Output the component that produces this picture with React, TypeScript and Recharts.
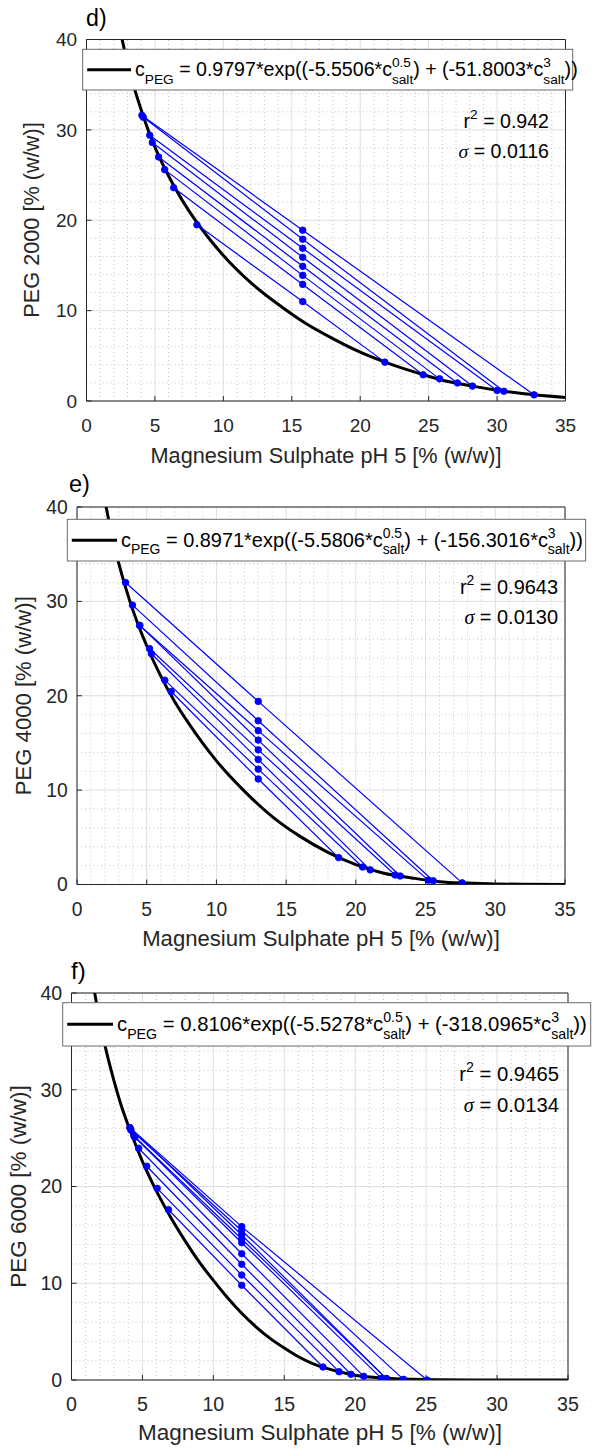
import React from "react";
import { LineChart, Line, XAxis, YAxis, CartesianGrid, ReferenceLine } from "recharts";

const FONT = '"Liberation Sans", Arial, Helvetica, sans-serif';
const INK = "#262626";
const BLUE = "#0000ff";

const xTicks = [0, 5, 10, 15, 20, 25, 30, 35];
const yTicks = [0, 10, 20, 30, 40];
const xMinor = [1, 2, 3, 4, 6, 7, 8, 9, 11, 12, 13, 14, 16, 17, 18, 19, 21, 22, 23, 24, 26, 27, 28, 29, 31, 32, 33, 34];
const yMinor = [2, 4, 6, 8, 12, 14, 16, 18, 22, 24, 26, 28, 32, 34, 36, 38];

const xLabel = "Magnesium Sulphate pH 5 [% (w/w)]";

// d) PEG 2000
const dCurveX = [2.5, 3, 3.5, 4, 4.5, 5, 6, 7, 8, 9, 10, 12, 14, 16, 18, 20, 22, 24, 26, 28, 30, 32, 35];
const dCurveY = [40.7, 37.4, 34.6, 32.2, 30.0, 28.1, 24.9, 22.2, 19.9, 17.9, 16.1, 13.1, 10.7, 8.6, 6.9, 5.4, 4.2, 3.2, 2.3, 1.7, 1.2, 0.8, 0.4];
const dTopX = [4.05, 4.15, 4.62, 4.81, 5.27, 5.71, 6.37, 8.07];
const dTopY = [31.6, 31.4, 29.4, 28.6, 27.0, 25.6, 23.6, 19.5];
const dFeedX = 15.8;
const dFeedY = [18.9, 17.9, 16.9, 15.9, 14.9, 13.9, 12.9, 11.0];
const dBotX = [32.7, 30.5, 30.0, 28.2, 27.1, 25.8, 24.6, 21.8];
const dBotY = [0.68, 1.08, 1.16, 1.65, 2.0, 2.45, 2.9, 4.3];

// e) PEG 4000
const eCurveX = [2, 2.5, 3, 3.5, 4, 4.5, 5, 6, 7, 8, 9, 10, 12, 14, 16, 18, 20, 22, 24, 26, 28, 30, 32, 35];
const eCurveY = [40.7, 37.0, 34.0, 31.4, 29.1, 27.1, 25.3, 22.1, 19.4, 17.1, 15.0, 13.1, 9.9, 7.2, 5.1, 3.4, 2.1, 1.2, 0.7, 0.3, 0.15, 0.06, 0.02, 0];
const eTopX = [3.48, 3.98, 4.5, 4.5, 5.2, 5.34, 6.3, 6.75];
const eTopY = [32.0, 29.6, 27.45, 27.45, 25.0, 24.45, 21.65, 20.45];
const eFeedX = 13.0;
const eFeedY = [19.4, 17.35, 16.3, 15.3, 14.27, 13.25, 12.22, 11.18];
const eBotX = [27.63, 25.55, 25.19, 23.18, 22.82, 21.03, 20.48, 18.76];
const eBotY = [0.17, 0.4, 0.46, 0.9, 1.0, 1.55, 1.85, 2.85];

// f) PEG 6000
const fCurveX = [1.5, 2, 2.5, 3, 3.5, 4, 4.5, 5, 6, 7, 8, 9, 10, 11, 12, 13, 14, 15, 16, 17, 18, 19, 20, 22, 24, 26, 28, 35];
const fCurveY = [41.2, 37.0, 33.7, 30.9, 28.4, 26.3, 24.4, 22.6, 19.5, 16.8, 14.4, 12.2, 10.3, 8.5, 6.9, 5.5, 4.3, 3.3, 2.4, 1.7, 1.2, 0.8, 0.5, 0.2, 0.07, 0.02, 0, 0];
const fTopX = [4.12, 4.12, 4.19, 4.4, 4.47, 4.73, 5.3, 6.04, 6.84];
const fTopY = [26.08, 26.08, 25.84, 25.22, 25.08, 23.95, 22.09, 19.81, 17.6];
const fFeedX = 12.0;
const fFeedY = [15.85, 14.99, 15.43, 14.57, 14.19, 13.05, 11.96, 10.85, 9.79];
const fBotX = [25.06, 22.2, 23.4, 22.2, 21.85, 20.6, 19.7, 18.86, 17.73];
const fBotY = [0.0, 0.14, 0.07, 0.14, 0.17, 0.38, 0.59, 0.86, 1.34];

type Cfg = {
  top: number; height: number; mTop: number; yW: number; mRight: number; xH: number; fs: number;
  curveX: number[]; curveY: number[];
  topX: number[]; topY: number[]; feedX: number; feedY: number[]; botX: number[]; botY: number[];
};

function Panel({ c }: { c: Cfg }) {
  const curve = c.curveX.map((x, i) => ({ x, y: c.curveY[i] }));
  const ties = c.topX.map((_, i) => [
    { x: c.topX[i], y: c.topY[i] },
    { x: c.feedX, y: c.feedY[i] },
    { x: c.botX[i], y: c.botY[i] },
  ]);
  const tick = { fill: INK, fontSize: c.fs, fontFamily: FONT };
  return (
    <div style={{ position: "absolute", left: 0, top: c.top }}>
      <LineChart width={593} height={c.height} margin={{ top: c.mTop, right: c.mRight, left: 0, bottom: 0 }}>
        {xMinor.map((v) => <ReferenceLine key={"mx" + v} x={v} stroke="#c4c4c4" strokeDasharray="1 3" />)}
        {yMinor.map((v) => <ReferenceLine key={"my" + v} y={v} stroke="#c4c4c4" strokeDasharray="1 3" />)}
        <CartesianGrid stroke="#dedede" />
        <XAxis type="number" dataKey="x" domain={[0, 35]} ticks={xTicks} interval={0} allowDataOverflow
          height={c.xH} tickSize={-5} tickMargin={22.5} tick={tick} stroke={INK} />
        <XAxis xAxisId="top" orientation="top" type="number" dataKey="x" domain={[0, 35]} ticks={xTicks} interval={0}
          height={1} tickSize={-5} tick={false} stroke={INK} />
        <YAxis type="number" domain={[0, 40]} ticks={yTicks} interval={0} allowDataOverflow
          width={c.yW} tickSize={-5} tickMargin={14.3} tick={tick} stroke={INK} />
        <YAxis yAxisId="right" orientation="right" type="number" domain={[0, 40]} ticks={yTicks} interval={0}
          width={1} tickSize={-5} tick={false} stroke={INK} />
        <Line data={curve} dataKey="y" type="monotone" stroke="#000" strokeWidth={3} dot={false} isAnimationActive={false} />
        {ties.map((pts, i) => (
          <Line key={i} data={pts} dataKey="y" type="linear" stroke={BLUE} strokeWidth={1.2}
            dot={{ r: 3.3, fill: BLUE, stroke: BLUE, strokeWidth: 0.8 }} isAnimationActive={false} />
        ))}
      </LineChart>
    </div>
  );
}

function FitLegend({ bx, by, bw, bh, tx, s, coef }: { bx: number; by: number; bw: number; bh: number; tx: number; s: number; coef: string[] }) {
  const fs = 20.3 * s;
  const ss = 14.2 * s;
  const cy = by + bh / 2;
  const base = cy + 6.5 * s;
  return (
    <g>
      <rect x={bx} y={by} width={bw} height={bh} fill="#fff" stroke="#6a6a6a" strokeWidth={1} />
      <line x1={bx + 4.5} x2={tx - 4} y1={cy} y2={cy} stroke="#000" strokeWidth={3} />
      <text x={tx} y={base} fontSize={fs} fill="#000" style={{ whiteSpace: "pre" }}>
        c<tspan fontSize={ss} dy={8 * s}>PEG</tspan>
        <tspan dy={-8 * s}>{` = ${coef[0]}*exp((${coef[1]}*c`}</tspan>
        <tspan fontSize={ss} dy={-9 * s}>0.5</tspan>
        <tspan fontSize={ss} dx={-1.39 * ss} dy={17 * s}>salt</tspan>
        <tspan dy={-8 * s}>{`) + (${coef[2]}*c`}</tspan>
        <tspan fontSize={ss} dy={-9 * s}>3</tspan>
        <tspan fontSize={ss} dx={-0.556 * ss} dy={17 * s}>salt</tspan>
        <tspan dy={-8 * s}>))</tspan>
      </text>
    </g>
  );
}

function Stats({ x, y, s, r2, sigma }: { x: number; y: number; s: number; r2: string; sigma: string }) {
  const fs = 20.3 * s;
  return (
    <g fill="#000" fontSize={fs} style={{ whiteSpace: "pre" }}>
      <text x={x} y={y} textAnchor="end">
        r<tspan fontSize={14.2 * s} dy={-9 * s}>2</tspan><tspan dy={9 * s}>{` = ${r2}`}</tspan>
      </text>
      <text x={x} y={y + 31 * s} textAnchor="end">
        <tspan fontFamily='"Liberation Serif", "DejaVu Serif", serif' fontStyle="italic">σ</tspan>{` = ${sigma}`}
      </text>
    </g>
  );
}

function AxisText({ letter, lx, ly, xcx, xby, ycx, ycy, yLabel, s }: { letter: string; lx: number; ly: number; xcx: number; xby: number; ycx: number; ycy: number; yLabel: string; s: number }) {
  return (
    <g fill={INK}>
      <text x={lx} y={ly} fontSize={24 * s} fill="#000">{letter}</text>
      <text x={xcx} y={xby} fontSize={22.5 * s} textAnchor="middle">{xLabel}</text>
      <text x={ycx} y={ycy} fontSize={22.5 * s} textAnchor="middle" transform={`rotate(-90 ${ycx} ${ycy})`}>{yLabel}</text>
    </g>
  );
}

const dCfg: Cfg = { top: 0, height: 470, mTop: 38.5, yW: 86.5, mRight: 26.5, xH: 69, fs: 19, curveX: dCurveX, curveY: dCurveY, topX: dTopX, topY: dTopY, feedX: dFeedX, feedY: dFeedY, botX: dBotX, botY: dBotY };
const eCfg: Cfg = { top: 480, height: 470, mTop: 26, yW: 77, mRight: 27, xH: 65.5, fs: 19.3, curveX: eCurveX, curveY: eCurveY, topX: eTopX, topY: eTopY, feedX: eFeedX, feedY: eFeedY, botX: eBotX, botY: eBotY };
const fCfg: Cfg = { top: 960, height: 480, mTop: 32, yW: 71.5, mRight: 24, xH: 60, fs: 19.6, curveX: fCurveX, curveY: fCurveY, topX: fTopX, topY: fTopY, feedX: fFeedX, feedY: fFeedY, botX: fBotX, botY: fBotY };

export default function App() {
  return (
    <div style={{ position: "absolute", left: 0, top: 0, width: 593, height: 1449, background: "#fff", fontFamily: FONT }}>
      <Panel c={dCfg} />
      <Panel c={eCfg} />
      <Panel c={fCfg} />
      <svg width={593} height={1449} style={{ position: "absolute", left: 0, top: 0, pointerEvents: "none" }} fontFamily={FONT}>
        <FitLegend bx={82.7} by={49.3} bw={490} bh={40.7} tx={135} s={0.965} coef={["0.9797", "-5.5506", "-51.8003"]} />
        <Stats x={549} y={128} s={0.965} r2="0.942" sigma="0.0116" />
        <AxisText letter="d)" lx={86} ly={26} xcx={326} xby={463} ycx={39} ycy={220} yLabel="PEG 2000 [% (w/w)]" s={0.965} />

        <FitLegend bx={67.3} by={519.3} bw={518.3} bh={41.7} tx={121} s={0.983} coef={["0.8971", "-5.5806", "-156.3016"]} />
        <Stats x={558} y={594} s={0.983} r2="0.9643" sigma="0.0130" />
        <AxisText letter="e)" lx={69} ly={492} xcx={321} xby={946} ycx={31} ycy={695.7} yLabel="PEG 4000 [% (w/w)]" s={0.983} />

        <FitLegend bx={62.7} by={1002.7} bw={528} bh={43.3} tx={117} s={1} coef={["0.8106", "-5.5278", "-318.0965"]} />
        <Stats x={559} y={1081} s={1} r2="0.9465" sigma="0.0134" />
        <AxisText letter="f)" lx={71} ly={979} xcx={320} xby={1440} ycx={26} ycy={1186.5} yLabel="PEG 6000 [% (w/w)]" s={1} />
      </svg>
    </div>
  );
}
